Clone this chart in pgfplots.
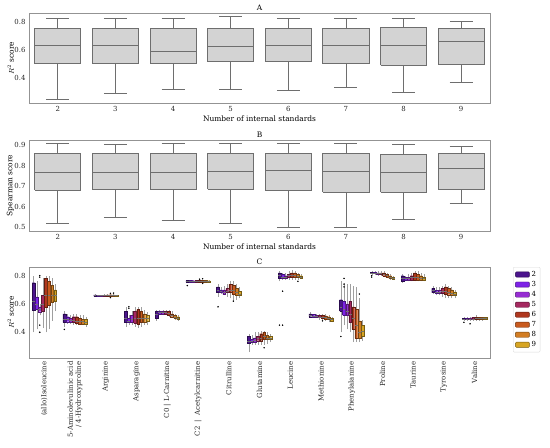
\documentclass[border=0pt]{standalone}
\usepackage{fontspec}
\setmainfont{DejaVu Serif}
\usepackage{pgfplots}
\pgfplotsset{compat=1.18}

\definecolor{c2}{RGB}{75,20,140}
\definecolor{c3}{RGB}{125,35,230}
\definecolor{c4}{RGB}{150,45,210}
\definecolor{c5}{RGB}{165,40,95}
\definecolor{c6}{RGB}{175,55,30}
\definecolor{c7}{RGB}{200,90,30}
\definecolor{c8}{RGB}{210,125,35}
\definecolor{c9}{RGB}{215,165,35}
\definecolor{boxgray}{RGB}{211,211,211}
\definecolor{edgegray}{RGB}{110,110,110}

\pgfplotsset{
  h0/.style={fill=c2,draw=c2!55!black},
  h1/.style={fill=c3,draw=c3!55!black},
  h2/.style={fill=c4,draw=c4!55!black},
  h3/.style={fill=c5,draw=c5!55!black},
  h4/.style={fill=c6,draw=c6!55!black},
  h5/.style={fill=c7,draw=c7!55!black},
  h6/.style={fill=c8,draw=c8!55!black},
  h7/.style={fill=c9,draw=c9!55!black},
  panel/.style={
    scale only axis,
    width=461bp,
    axis line style={draw=gray!85, line width=0.6pt},
    major tick length=0pt,
    tick label style={font=\fontsize{7}{8}\selectfont, text=black!85},
    label style={font=\fontsize{7.5}{9}\selectfont},
    title style={font=\fontsize{7.5}{9}\selectfont, yshift=-7.5pt},
    xlabel style={yshift=3pt},
    ylabel style={yshift=-6.5pt},
    /pgf/number format/assume math mode=true,
    /pgf/number format/fixed,
    /pgf/number format/precision=1,
    yticklabel style={/pgf/number format/fixed zerofill},
  },
  gline/.style={draw=edgegray, line width=0.8pt},
}

% grey box (A, B): position, lower whisker, Q1, median, Q3, upper whisker
\newcommand\gb[6]{%
  \pgfmathsetmacro\bxL{#1-0.4}\pgfmathsetmacro\bxR{#1+0.4}%
  \pgfmathsetmacro\bxCL{#1-0.2}\pgfmathsetmacro\bxCR{#1+0.2}%
  \addplot[gline] coordinates {(#1,#2) (#1,#3)};
  \addplot[gline] coordinates {(#1,#5) (#1,#6)};
  \addplot[gline] coordinates {(\bxCL,#2) (\bxCR,#2)};
  \addplot[gline] coordinates {(\bxCL,#6) (\bxCR,#6)};
  \addplot[gline, fill=boxgray] coordinates {(\bxL,#3) (\bxR,#3) (\bxR,#5) (\bxL,#5) (\bxL,#3)};
  \addplot[gline] coordinates {(\bxL,#4) (\bxR,#4)};
}
% coloured box (C): category, hue, lower whisker, Q1, median, Q3, upper whisker
\newcommand\bx[7]{%
  \pgfmathsetmacro\bxC{#1-0.35+0.1*#2}%
  \pgfmathsetmacro\bxL{\bxC-0.046}\pgfmathsetmacro\bxR{\bxC+0.046}%
  \addplot[draw=gray!75, line width=0.3pt] coordinates {(\bxC,#3) (\bxC,#4)};
  \addplot[draw=gray!75, line width=0.3pt] coordinates {(\bxC,#6) (\bxC,#7)};
  \addplot[h#2, line width=0.25pt] coordinates {(\bxL,#4) (\bxR,#4) (\bxR,#6) (\bxL,#6) (\bxL,#4)};
  \addplot[draw=black!55, line width=0.3pt] coordinates {(\bxL,#5) (\bxR,#5)};
}
% same, with outliers as last argument
\newcommand\bxo[8]{%
  \bx{#1}{#2}{#3}{#4}{#5}{#6}{#7}%
  \addplot[only marks, mark=*, mark size=0.5pt, black] table[row sep=\\, x expr=\bxC, y index=0] {v\\ #8};
}

\begin{document}
\begin{tikzpicture}
\useasboundingbox (0,0) rectangle (550bp,-448bp);

% ---------------- Panel A ----------------
\begin{axis}[panel, at={(29bp,-13bp)}, anchor=north west, height=90bp,
  xmin=1.5, xmax=9.5, ymin=0.227, ymax=0.861,
  xtick={2,...,9}, ytick={0.4,0.6,0.8},
  title={A}, xlabel={Number of internal standards}, ylabel={$R^2$ score}]
\gb{2}{0.255}{0.505}{0.634}{0.751}{0.823}
\gb{3}{0.295}{0.505}{0.634}{0.751}{0.823}
\gb{4}{0.325}{0.505}{0.592}{0.751}{0.823}
\gb{5}{0.325}{0.517}{0.627}{0.751}{0.835}
\gb{6}{0.316}{0.517}{0.634}{0.751}{0.823}
\gb{7}{0.334}{0.505}{0.634}{0.753}{0.823}
\gb{8}{0.304}{0.494}{0.634}{0.758}{0.823}
\gb{9}{0.374}{0.498}{0.662}{0.751}{0.802}
\end{axis}

% ---------------- Panel B ----------------
\begin{axis}[panel, at={(29bp,-140bp)}, anchor=north west, height=91bp,
  xmin=1.5, xmax=9.5, ymin=0.480, ymax=0.926,
  xtick={2,...,9}, ytick={0.5,0.6,0.7,0.8,0.9},
  title={B}, xlabel={Number of internal standards}, ylabel={Spearman score}]
\gb{2}{0.515}{0.680}{0.769}{0.862}{0.908}
\gb{3}{0.546}{0.685}{0.768}{0.859}{0.905}
\gb{4}{0.530}{0.682}{0.769}{0.860}{0.908}
\gb{5}{0.515}{0.685}{0.773}{0.862}{0.908}
\gb{6}{0.500}{0.680}{0.776}{0.862}{0.907}
\gb{7}{0.498}{0.670}{0.773}{0.862}{0.907}
\gb{8}{0.538}{0.670}{0.769}{0.857}{0.905}
\gb{9}{0.614}{0.685}{0.786}{0.860}{0.897}
\end{axis}

% ---------------- Panel C ----------------
\begin{axis}[panel, at={(29bp,-267bp)}, anchor=north west, height=91bp,
  xmin=-0.5, xmax=14.5, ymin=0.218, ymax=0.861,
  xtick={0,...,14}, ytick={0.4,0.6,0.8},
  xticklabels={(allo)Isoleucine, {5-Aminolevulinic acid\\/ 4-Hydroxyproline}, Arginine, Asparagine, C0 | L-Carnitine, C2 \ | \ Acetylcarnitine, Citrulline, Glutamine, Leucine, Methionine, Phenylalanine, Proline, Taurine, Tyrosine, Valine},
  xticklabel style={rotate=90, anchor=east, align=right, font=\fontsize{7}{8}\selectfont},
  title={C}, ylabel={$R^2$ score},
  legend image code/.code={\draw[#1, line width=0.4pt] (0bp,-2.6bp) rectangle (14bp,2.6bp);},
  legend style={at={(1.05,1)}, anchor=north west, draw=gray!30, rounded corners=1pt,
    font=\fontsize{7}{8}\selectfont, row sep=-0.6pt, inner sep=2pt, cells={anchor=west}}]
\addlegendimage{h0}\addlegendimage{h1}\addlegendimage{h2}\addlegendimage{h3}
\addlegendimage{h4}\addlegendimage{h5}\addlegendimage{h6}\addlegendimage{h7}
\legend{2,3,4,5,6,7,8,9}
% (allo)Isoleucine
\bx{0}{0}{0.40}{0.555}{0.62}{0.75}{0.80}
\bx{0}{1}{0.42}{0.56}{0.60}{0.65}{0.76}
\bxo{0}{2}{0.52}{0.545}{0.56}{0.58}{0.60}{0.40\\ 0.45\\ 0.79\\ 0.80\\}
\bx{0}{3}{0.43}{0.55}{0.60}{0.66}{0.78}
\bx{0}{4}{0.40}{0.58}{0.66}{0.78}{0.80}
\bx{0}{5}{0.42}{0.59}{0.66}{0.76}{0.80}
\bx{0}{6}{0.48}{0.61}{0.66}{0.73}{0.78}
\bx{0}{7}{0.55}{0.62}{0.66}{0.70}{0.74}
% 5-Aminolevulinic acid
\bxo{1}{0}{0.44}{0.47}{0.49}{0.53}{0.55}{0.42\\}
\bx{1}{1}{0.46}{0.475}{0.49}{0.51}{0.53}
\bx{1}{2}{0.46}{0.47}{0.485}{0.50}{0.52}
\bx{1}{3}{0.45}{0.47}{0.485}{0.51}{0.53}
\bx{1}{4}{0.45}{0.465}{0.48}{0.51}{0.53}
\bx{1}{5}{0.45}{0.46}{0.48}{0.50}{0.52}
\bx{1}{6}{0.45}{0.46}{0.475}{0.49}{0.52}
\bx{1}{7}{0.44}{0.455}{0.47}{0.49}{0.51}
% Arginine
\bx{2}{0}{0.652}{0.656}{0.660}{0.664}{0.667}
\bx{2}{1}{0.652}{0.656}{0.660}{0.663}{0.666}
\bx{2}{2}{0.652}{0.656}{0.659}{0.663}{0.666}
\bx{2}{3}{0.651}{0.655}{0.659}{0.663}{0.667}
\bx{2}{4}{0.650}{0.655}{0.660}{0.664}{0.668}
\bxo{2}{5}{0.650}{0.655}{0.660}{0.665}{0.669}{0.645\\ 0.675\\}
\bxo{2}{6}{0.650}{0.655}{0.660}{0.664}{0.668}{0.677\\}
\bx{2}{7}{0.652}{0.656}{0.660}{0.663}{0.666}
% Asparagine
\bx{3}{0}{0.44}{0.47}{0.50}{0.55}{0.58}
\bxo{3}{1}{0.45}{0.47}{0.48}{0.50}{0.52}{0.57\\ 0.58\\}
\bx{3}{2}{0.45}{0.47}{0.49}{0.52}{0.55}
\bx{3}{3}{0.44}{0.465}{0.50}{0.55}{0.58}
\bx{3}{4}{0.43}{0.46}{0.50}{0.56}{0.58}
\bx{3}{5}{0.44}{0.47}{0.50}{0.55}{0.58}
\bx{3}{6}{0.45}{0.47}{0.50}{0.53}{0.56}
\bx{3}{7}{0.45}{0.48}{0.50}{0.52}{0.54}
% C0 | L-Carnitine
\bx{4}{0}{0.48}{0.50}{0.53}{0.55}{0.56}
\bx{4}{1}{0.52}{0.53}{0.54}{0.55}{0.56}
\bx{4}{2}{0.52}{0.53}{0.54}{0.55}{0.56}
\bx{4}{3}{0.52}{0.53}{0.54}{0.55}{0.56}
\bx{4}{4}{0.51}{0.52}{0.535}{0.55}{0.56}
\bx{4}{5}{0.50}{0.51}{0.52}{0.53}{0.55}
\bx{4}{6}{0.49}{0.50}{0.51}{0.52}{0.53}
\bx{4}{7}{0.48}{0.49}{0.50}{0.51}{0.52}
% C2 | Acetylcarnitine
\bxo{5}{0}{0.750}{0.755}{0.760}{0.765}{0.770}{0.73\\}
\bx{5}{1}{0.750}{0.755}{0.760}{0.765}{0.770}
\bx{5}{2}{0.751}{0.756}{0.760}{0.764}{0.769}
\bx{5}{3}{0.751}{0.756}{0.760}{0.765}{0.770}
\bxo{5}{4}{0.750}{0.756}{0.761}{0.766}{0.772}{0.775\\}
\bxo{5}{5}{0.750}{0.755}{0.760}{0.766}{0.772}{0.778\\ 0.745\\}
\bx{5}{6}{0.750}{0.755}{0.760}{0.765}{0.770}
\bx{5}{7}{0.752}{0.756}{0.760}{0.764}{0.768}
% Citrulline
\bxo{6}{0}{0.65}{0.68}{0.70}{0.72}{0.74}{0.58\\}
\bx{6}{1}{0.67}{0.68}{0.69}{0.70}{0.72}
\bx{6}{2}{0.66}{0.67}{0.685}{0.70}{0.73}
\bx{6}{3}{0.65}{0.68}{0.69}{0.71}{0.74}
\bx{6}{4}{0.64}{0.68}{0.70}{0.74}{0.76}
\bxo{6}{5}{0.63}{0.67}{0.70}{0.73}{0.76}{0.62\\}
\bx{6}{6}{0.63}{0.66}{0.68}{0.71}{0.74}
\bx{6}{7}{0.64}{0.66}{0.67}{0.69}{0.72}
% Glutamine
\bx{7}{0}{0.26}{0.32}{0.34}{0.37}{0.39}
\bx{7}{1}{0.31}{0.33}{0.34}{0.35}{0.38}
\bx{7}{2}{0.31}{0.33}{0.345}{0.36}{0.40}
\bx{7}{3}{0.31}{0.34}{0.355}{0.37}{0.40}
\bx{7}{4}{0.31}{0.34}{0.36}{0.39}{0.41}
\bxo{7}{5}{0.31}{0.35}{0.37}{0.40}{0.41}{0.29\\}
\bx{7}{6}{0.32}{0.35}{0.36}{0.38}{0.40}
\bx{7}{7}{0.33}{0.35}{0.36}{0.37}{0.39}
% Leucine
\bxo{8}{0}{0.76}{0.78}{0.80}{0.82}{0.83}{0.45\\}
\bxo{8}{1}{0.77}{0.78}{0.79}{0.81}{0.82}{0.45\\ 0.69\\}
\bx{8}{2}{0.77}{0.785}{0.79}{0.80}{0.82}
\bx{8}{3}{0.77}{0.79}{0.80}{0.81}{0.83}
\bx{8}{4}{0.77}{0.79}{0.80}{0.82}{0.84}
\bx{8}{5}{0.77}{0.79}{0.80}{0.82}{0.83}
\bxo{8}{6}{0.77}{0.79}{0.795}{0.81}{0.82}{0.76\\}
\bx{8}{7}{0.78}{0.785}{0.79}{0.80}{0.81}
% Methionine
\bx{9}{0}{0.50}{0.51}{0.52}{0.53}{0.54}
\bx{9}{1}{0.50}{0.51}{0.515}{0.525}{0.53}
\bx{9}{2}{0.50}{0.51}{0.515}{0.52}{0.53}
\bx{9}{3}{0.49}{0.505}{0.51}{0.52}{0.53}
\bxo{9}{4}{0.49}{0.50}{0.51}{0.52}{0.53}{0.48\\}
\bx{9}{5}{0.48}{0.495}{0.505}{0.515}{0.53}
\bx{9}{6}{0.47}{0.49}{0.50}{0.51}{0.52}
\bx{9}{7}{0.47}{0.48}{0.49}{0.50}{0.51}
% Phenylalanine
\bxo{10}{0}{0.40}{0.55}{0.58}{0.63}{0.76}{0.37\\}
\bxo{10}{1}{0.45}{0.52}{0.56}{0.62}{0.75}{0.78\\ 0.74\\ 0.72\\}
\bx{10}{2}{0.42}{0.52}{0.55}{0.60}{0.74}
\bx{10}{3}{0.40}{0.47}{0.53}{0.62}{0.74}
\bx{10}{4}{0.33}{0.42}{0.50}{0.58}{0.73}
\bx{10}{5}{0.33}{0.36}{0.45}{0.56}{0.72}
\bxo{10}{6}{0.33}{0.36}{0.40}{0.48}{0.64}{0.67\\}
\bx{10}{7}{0.34}{0.37}{0.41}{0.45}{0.49}
% Proline
\bxo{11}{0}{0.81}{0.815}{0.82}{0.825}{0.83}{0.80\\ 0.79\\}
\bx{11}{1}{0.81}{0.815}{0.82}{0.825}{0.83}
\bx{11}{2}{0.80}{0.81}{0.815}{0.82}{0.83}
\bx{11}{3}{0.80}{0.81}{0.815}{0.82}{0.83}
\bx{11}{4}{0.79}{0.80}{0.81}{0.82}{0.83}
\bx{11}{5}{0.78}{0.79}{0.80}{0.81}{0.82}
\bx{11}{6}{0.77}{0.78}{0.79}{0.80}{0.81}
\bx{11}{7}{0.77}{0.775}{0.78}{0.79}{0.80}
% Taurine
\bx{12}{0}{0.75}{0.76}{0.78}{0.80}{0.81}
\bx{12}{1}{0.76}{0.77}{0.78}{0.79}{0.80}
\bx{12}{2}{0.76}{0.77}{0.78}{0.79}{0.81}
\bx{12}{3}{0.76}{0.77}{0.79}{0.80}{0.82}
\bx{12}{4}{0.76}{0.77}{0.79}{0.82}{0.83}
\bx{12}{5}{0.76}{0.77}{0.79}{0.81}{0.83}
\bx{12}{6}{0.76}{0.77}{0.78}{0.80}{0.82}
\bx{12}{7}{0.76}{0.77}{0.78}{0.79}{0.81}
% Tyrosine
\bx{13}{0}{0.67}{0.68}{0.70}{0.71}{0.73}
\bx{13}{1}{0.66}{0.675}{0.685}{0.695}{0.72}
\bx{13}{2}{0.66}{0.675}{0.685}{0.695}{0.72}
\bx{13}{3}{0.65}{0.675}{0.69}{0.71}{0.73}
\bx{13}{4}{0.64}{0.67}{0.69}{0.72}{0.74}
\bx{13}{5}{0.64}{0.665}{0.68}{0.71}{0.73}
\bx{13}{6}{0.64}{0.66}{0.675}{0.70}{0.72}
\bx{13}{7}{0.64}{0.66}{0.67}{0.685}{0.70}
% Valine
\bxo{14}{0}{0.48}{0.49}{0.495}{0.50}{0.51}{0.47\\}
\bx{14}{1}{0.48}{0.49}{0.495}{0.50}{0.51}
\bxo{14}{2}{0.48}{0.49}{0.495}{0.50}{0.51}{0.46\\}
\bx{14}{3}{0.48}{0.49}{0.495}{0.505}{0.51}
\bx{14}{4}{0.48}{0.49}{0.50}{0.505}{0.52}
\bx{14}{5}{0.48}{0.49}{0.50}{0.505}{0.51}
\bx{14}{6}{0.48}{0.49}{0.50}{0.505}{0.51}
\bx{14}{7}{0.49}{0.495}{0.50}{0.505}{0.51}
\end{axis}
\end{tikzpicture}
\end{document}
